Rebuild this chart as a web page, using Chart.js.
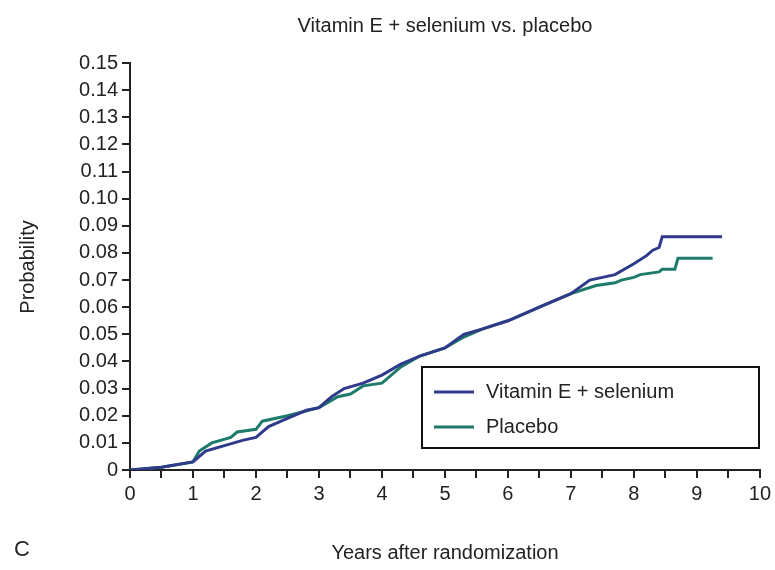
<!DOCTYPE html>
<html>
<head>
<meta charset="utf-8">
<script src="https://cdn.jsdelivr.net/npm/chart.js@4/dist/chart.umd.min.js"></script>
<style>
  body { margin: 0; background: #fff; }
  #wrap { position: relative; width: 775px; height: 570px; }
</style>
</head>
<body>
<div id="wrap"><canvas id="km" width="775" height="570"></canvas></div>
<script>
// data
const vitYears = [0, 0.5, 1.0, 1.2, 1.5, 1.8, 2.0, 2.2, 2.5, 2.8, 3.0, 3.2, 3.4, 3.7, 4.0, 4.3, 4.6, 5.0, 5.3, 5.6, 6.0, 6.3, 6.6, 7.0, 7.3, 7.5, 7.7, 8.0, 8.2, 8.3, 8.4, 8.45, 9.4];
const vitProb  = [0, 0.001, 0.003, 0.007, 0.009, 0.011, 0.012, 0.016, 0.019, 0.022, 0.023, 0.027, 0.030, 0.032, 0.035, 0.039, 0.042, 0.045, 0.050, 0.052, 0.055, 0.058, 0.061, 0.065, 0.070, 0.071, 0.072, 0.076, 0.079, 0.081, 0.082, 0.086, 0.086];
const plaYears = [0, 0.5, 1.0, 1.1, 1.3, 1.6, 1.7, 2.0, 2.1, 2.5, 3.0, 3.3, 3.5, 3.7, 4.0, 4.3, 4.6, 5.0, 5.3, 5.6, 6.0, 6.5, 7.0, 7.4, 7.7, 7.8, 8.0, 8.1, 8.4, 8.45, 8.65, 8.7, 9.25];
const plaProb  = [0, 0.001, 0.003, 0.007, 0.010, 0.012, 0.014, 0.015, 0.018, 0.020, 0.023, 0.027, 0.028, 0.031, 0.032, 0.038, 0.042, 0.045, 0.049, 0.052, 0.055, 0.060, 0.065, 0.068, 0.069, 0.070, 0.071, 0.072, 0.073, 0.074, 0.074, 0.078, 0.078];
const seriesNames = ['Vitamin E + selenium', 'Placebo'];
const chartTitle = 'Vitamin E + selenium vs. placebo';
const xTitle = 'Years after randomization';
const yTitle = 'Probability';
const panelLetter = 'C';

const FONT = '"Liberation Sans", Arial, sans-serif';
const toPts = (xs, ys) => xs.map((x, i) => ({ x: x, y: ys[i] }));

// titles, panel letter and boxed legend
const decor = {
  id: 'decor',
  afterDraw(chart) {
    const ctx = chart.ctx;
    ctx.save();
    ctx.fillStyle = '#222';
    ctx.font = '20px ' + FONT;
    ctx.textAlign = 'center';
    ctx.textBaseline = 'middle';
    ctx.fillText(chartTitle, 445, 26);
    ctx.fillText(xTitle, 445, 553);
    ctx.font = '22px ' + FONT;
    ctx.textAlign = 'left';
    ctx.fillText(panelLetter, 14, 550);
    ctx.save();
    ctx.translate(28, 267);
    ctx.rotate(-Math.PI / 2);
    ctx.textAlign = 'center';
    ctx.font = '20px ' + FONT;
    ctx.fillText(yTitle, 0, 0);
    ctx.restore();
    // legend
    const bx = 422, by = 367, bw = 337, bh = 81;
    ctx.fillStyle = '#fff';
    ctx.fillRect(bx, by, bw, bh);
    ctx.strokeStyle = '#111';
    ctx.lineWidth = 2;
    ctx.strokeRect(bx, by, bw, bh);
    chart.data.datasets.forEach((ds, i) => {
      const yy = by + 25 + i * 35;
      ctx.strokeStyle = ds.borderColor;
      ctx.lineWidth = 3;
      ctx.beginPath();
      ctx.moveTo(bx + 12, yy);
      ctx.lineTo(bx + 52, yy);
      ctx.stroke();
      ctx.fillStyle = '#222';
      ctx.font = '20px ' + FONT;
      ctx.fillText(ds.label, bx + 64, yy);
    });
    ctx.restore();
  }
};

new Chart(document.getElementById('km'), {
  type: 'scatter',
  data: {
    datasets: [
      { label: seriesNames[0], data: toPts(vitYears, vitProb), borderColor: '#2f3b8a', showLine: true, pointRadius: 0, borderWidth: 3, tension: 0 },
      { label: seriesNames[1], data: toPts(plaYears, plaProb), borderColor: '#1e7a6b', showLine: true, pointRadius: 0, borderWidth: 3, tension: 0 }
    ]
  },
  options: {
    responsive: false,
    animation: false,
    devicePixelRatio: 1,
    layout: { padding: { top: 63, right: 15, left: 0, bottom: 0 } },
    plugins: { legend: { display: false }, tooltip: { enabled: false } },
    scales: {
      x: {
        type: 'linear', min: 0, max: 10,
        afterFit: s => { s.height = 100; },
        ticks: { stepSize: 0.5, color: '#222', font: { family: FONT, size: 20 }, padding: 4, maxRotation: 0, autoSkip: false,
          callback: v => Number.isInteger(v) ? v : '' },
        grid: { drawOnChartArea: false, tickLength: 8, color: '#222', lineWidth: 2 },
        border: { color: '#222', width: 2 }
      },
      y: {
        min: 0, max: 0.15,
        afterFit: s => { s.width = 130; },
        ticks: { stepSize: 0.01, color: '#222', font: { family: FONT, size: 20 }, padding: 4,
          callback: v => v === 0 ? '0' : v.toFixed(2) },
        grid: { drawOnChartArea: false, tickLength: 8, color: '#222', lineWidth: 2 },
        border: { color: '#222', width: 2 }
      }
    }
  },
  plugins: [decor]
});
</script>
</body>
</html>
